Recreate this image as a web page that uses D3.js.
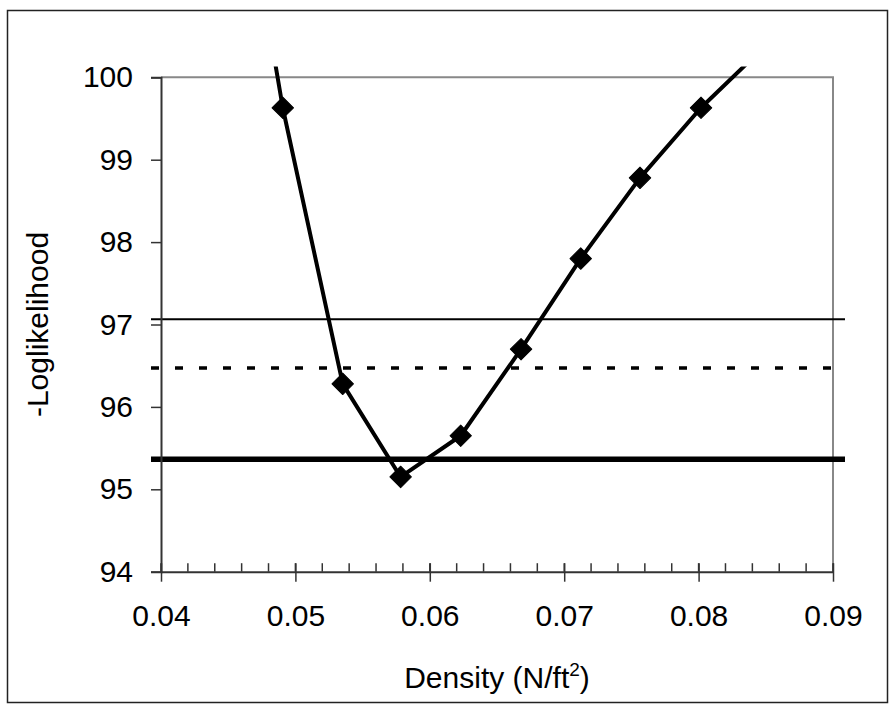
<!DOCTYPE html>
<html>
<head>
<meta charset="utf-8">
<script src="https://cdn.jsdelivr.net/npm/d3@7/dist/d3.min.js"></script>
<style>
  html, body { margin: 0; padding: 0; background: #fff; }
  svg { display: block; font-family: "Liberation Sans", Arial, sans-serif; }
</style>
</head>
<body>
<svg id="chart" width="892" height="707"></svg>
<script>
// Profile negative log-likelihood against density
const density = [0.04461, 0.04906, 0.05352, 0.05783, 0.0623, 0.06679, 0.07123, 0.07564, 0.08018, 0.08463];
const negLogLik = [103.9, 99.63, 96.28, 95.15, 95.65, 96.70, 97.80, 98.78, 99.63, 100.33];

// Reference levels: thin solid, dashed, thick solid
const refLevels = [97.063, 96.472, 95.364];
const refStyles = [
  { width: 2, dash: null },
  { width: 3.5, dash: "8,16" },
  { width: 5.5, dash: null }
];

const xDomain = [0.04, 0.09];
const yDomain = [94, 100];
const xMajorTicks = [0.04, 0.05, 0.06, 0.07, 0.08, 0.09];
const yTicks = [94, 95, 96, 97, 98, 99, 100];

const svg = d3.select("#chart");
const plotL = 161, plotR = 833, plotT = 77.3, plotB = 571.7;

const x = d3.scaleLinear().domain(xDomain).range([plotL, plotR]);
const y = d3.scaleLinear().domain(yDomain).range([plotB, plotT]);

// Outer chart border
svg.append("rect")
  .attr("x", 7.5).attr("y", 10.5)
  .attr("width", 880).attr("height", 692)
  .attr("fill", "#fff").attr("stroke", "#222").attr("stroke-width", 1.5);

// Plot frame: top and right in gray
svg.append("path")
  .attr("d", `M${plotL},${plotT}H${plotR}V${plotB}`)
  .attr("fill", "none").attr("stroke", "#888").attr("stroke-width", 2);

// Reference lines, extending a little past the plot on both sides
const refG = svg.append("g");
refLevels.forEach((v, i) => {
  refG.append("line")
    .attr("x1", plotL - 10).attr("x2", plotR + 12)
    .attr("y1", y(v)).attr("y2", y(v))
    .attr("stroke", "#000")
    .attr("stroke-width", refStyles[i].width)
    .attr("stroke-dasharray", refStyles[i].dash);
});

// Axes
const yAxis = d3.axisLeft(y).tickValues(yTicks).tickSize(10).tickPadding(18).tickFormat(d3.format("d"));
const yg = svg.append("g").attr("transform", `translate(${plotL},0)`).call(yAxis);
yg.select(".domain").attr("stroke", "#333").attr("stroke-width", 2);
yg.selectAll(".tick line").attr("stroke", "#333").attr("stroke-width", 1.5);
yg.selectAll(".tick text").attr("font-size", 30).attr("fill", "#000")
  .attr("font-family", "Liberation Sans, Arial, sans-serif");

const xMinor = d3.range(0, 26).map(i => 0.04 + i * 0.002);
const xg = svg.append("g").attr("transform", `translate(0,${plotB})`);
xg.call(d3.axisBottom(x).tickValues(xMinor).tickSize(0).tickFormat(""))
  .selectAll(".tick").remove();
xg.select(".domain").attr("stroke", "#333").attr("stroke-width", 2);
xg.selectAll(".minor").data(xMinor).enter().append("line")
  .attr("class", "minor")
  .attr("x1", d => x(d)).attr("x2", d => x(d))
  .attr("y1", -8.5).attr("y2", 0)
  .attr("stroke", "#333").attr("stroke-width", 1.5);
const xMajor = d3.axisBottom(x).tickValues(xMajorTicks).tickSize(10).tickPadding(23)
  .tickFormat(d3.format(".2f"));
const xg2 = svg.append("g").attr("transform", `translate(0,${plotB})`).call(xMajor);
xg2.select(".domain").remove();
xg2.selectAll(".tick line").attr("y1", -8.5).attr("stroke", "#333").attr("stroke-width", 1.5);
xg2.selectAll(".tick text").attr("font-size", 30).attr("fill", "#000")
  .attr("font-family", "Liberation Sans, Arial, sans-serif");

// Curve, clipped just above the plot
svg.append("clipPath").attr("id", "clip")
  .append("rect").attr("x", 0).attr("y", 66.5).attr("width", 892).attr("height", 640);

const line = d3.line().x((d, i) => x(density[i])).y(d => y(d));
svg.append("path")
  .datum(negLogLik)
  .attr("clip-path", "url(#clip)")
  .attr("d", line)
  .attr("fill", "none").attr("stroke", "#000").attr("stroke-width", 4)
  .attr("stroke-linejoin", "round");

// Diamond markers for points inside the plotted range
const diamond = d3.symbol().type(d3.symbolSquare).size(230);
svg.append("g").selectAll("path")
  .data(negLogLik.map((v, i) => ({ x: density[i], y: v }))
    .filter(d => d.x >= xDomain[0] && d.x <= xDomain[1] && d.y >= yDomain[0] && d.y <= yDomain[1]))
  .enter().append("path")
  .attr("d", diamond)
  .attr("transform", d => `translate(${x(d.x)},${y(d.y)}) rotate(45)`)
  .attr("fill", "#000").attr("stroke", "#000").attr("stroke-width", 1)
  .attr("stroke-linejoin", "round");

// Axis titles
svg.append("text")
  .attr("transform", `translate(48,${(plotT + plotB) / 2}) rotate(-90)`)
  .attr("text-anchor", "middle")
  .attr("font-size", 30).attr("fill", "#000")
  .text("-Loglikelihood");

const xt = svg.append("text")
  .attr("x", (plotL + plotR) / 2).attr("y", 688)
  .attr("text-anchor", "middle")
  .attr("font-size", 30).attr("fill", "#000");
xt.append("tspan").text("Density (N/ft");
xt.append("tspan").attr("font-size", 19).attr("dy", -12).text("2");
xt.append("tspan").attr("dy", 12).text(")");
</script>
</body>
</html>
